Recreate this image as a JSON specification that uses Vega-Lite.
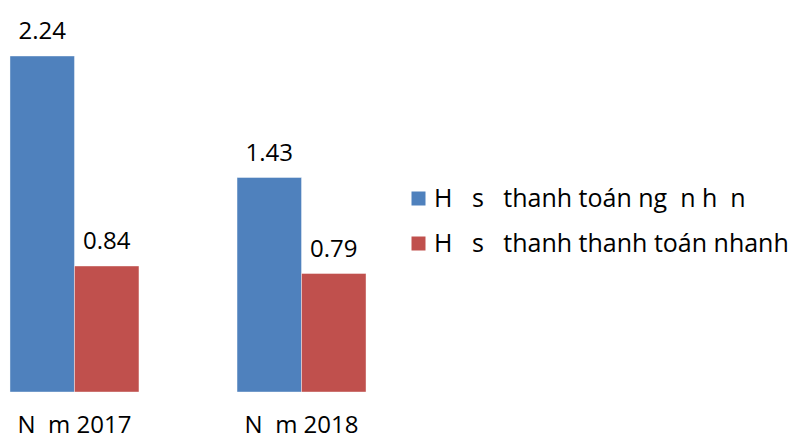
{
  "$schema": "https://vega.github.io/schema/vega-lite/v6.json",
  "width": 376,
  "height": 390,
  "autosize": "none",
  "padding": {"left": 0, "top": 2, "right": 419, "bottom": 48},
  "config": {"view": {"stroke": null}, "font": "Open Sans"},
  "data": {"values": [
    {"year": "N\u00a0\u00a0m 2017", "series": "H\u00a0\u00a0\u00a0s\u00a0\u00a0\u00a0thanh toán ng\u00a0\u00a0n h\u00a0\u00a0n", "value": 2.24},
    {"year": "N\u00a0\u00a0m 2017", "series": "H\u00a0\u00a0\u00a0s\u00a0\u00a0\u00a0thanh thanh toán nhanh", "value": 0.84},
    {"year": "N\u00a0\u00a0m 2018", "series": "H\u00a0\u00a0\u00a0s\u00a0\u00a0\u00a0thanh toán ng\u00a0\u00a0n h\u00a0\u00a0n", "value": 1.43},
    {"year": "N\u00a0\u00a0m 2018", "series": "H\u00a0\u00a0\u00a0s\u00a0\u00a0\u00a0thanh thanh toán nhanh", "value": 0.79}
  ]},
  "encoding": {
    "x": {"field": "year", "type": "nominal", "title": null,
      "scale": {"paddingInner": 0.432, "paddingOuter": 0.044},
      "axis": {"domain": false, "ticks": false, "labelAngle": 0, "labelFontSize": 24, "labelColor": "#000", "labelPadding": 21}},
    "xOffset": {"field": "series", "type": "nominal", "scale": {"domain": ["H\u00a0\u00a0\u00a0s\u00a0\u00a0\u00a0thanh toán ng\u00a0\u00a0n h\u00a0\u00a0n", "H\u00a0\u00a0\u00a0s\u00a0\u00a0\u00a0thanh thanh toán nhanh"]}},
    "y": {"field": "value", "type": "quantitative", "scale": {"domain": [0, 2.6]}, "axis": null}
  },
  "layer": [
    {"mark": {"type": "bar", "stroke": "#ffffff", "strokeOpacity": 0.4, "strokeWidth": 1},
     "encoding": {
       "color": {"field": "series", "type": "nominal",
         "scale": {"domain": ["H\u00a0\u00a0\u00a0s\u00a0\u00a0\u00a0thanh toán ng\u00a0\u00a0n h\u00a0\u00a0n", "H\u00a0\u00a0\u00a0s\u00a0\u00a0\u00a0thanh thanh toán nhanh"], "range": ["#4F81BD", "#C0504D"]},
         "legend": {"title": null, "orient": "none", "legendX": 406, "legendY": 184, "symbolType": "square", "symbolSize": 196, "symbolStrokeWidth": 0, "labelFontSize": 25, "labelColor": "#000", "labelOffset": 3, "rowPadding": 19, "labelLimit": 400}}
     }},
    {"mark": {"type": "text", "baseline": "alphabetic", "dy": -17, "fontSize": 24, "color": "#000"},
     "encoding": {"text": {"field": "value", "type": "quantitative", "format": ".2f"}}}
  ]
}
